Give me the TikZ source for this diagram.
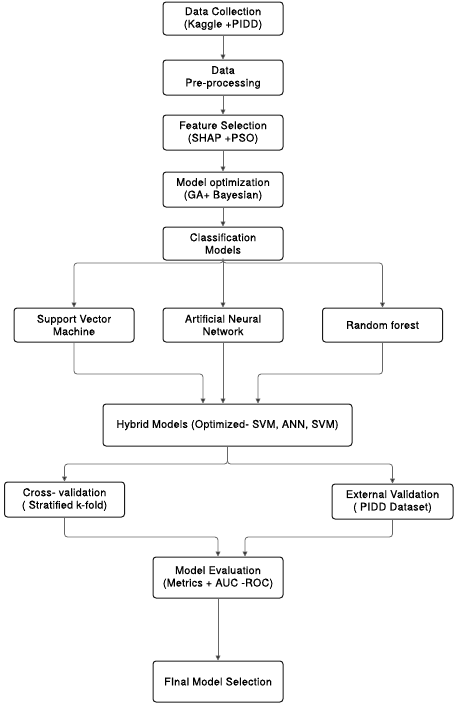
\documentclass[tikz,border=0pt]{standalone}
\usepackage{fontspec}
\setmainfont{TeX Gyre Heros}[LetterSpace=3,FakeBold=0.6]
\usetikzlibrary{arrows.meta,calc}
\begin{document}
\begin{tikzpicture}[x=1pt,y=-1pt,
  box/.style={draw=black!90, line width=1pt, rounded corners=3pt, fill=white,
    align=center, inner sep=0pt, font=\fontsize{10.6}{12.5}\selectfont},
  conn/.style={draw=black!60, line width=0.8pt, rounded corners=3pt,
    -{Triangle[length=5pt,width=5pt,fill=black!85]}}]
\useasboundingbox (0,0) rectangle (454,705);
\node[box, minimum width=120pt, minimum height=33pt] (collect) at (223,18.5) {Data Collection\\(Kaggle +PIDD)};
\node[box, minimum width=120pt, minimum height=35pt] (prep) at (223,77.5) {Data\\Pre-processing};
\node[box, minimum width=120pt, minimum height=35pt] (feat) at (223,132.5) {Feature Selection\\(SHAP +PSO)};
\node[box, minimum width=120pt, minimum height=35pt] (opt) at (223,189.5) {Model optimization\\(GA+ Bayesian)};
\node[box, minimum width=120pt, minimum height=33pt] (cls) at (223,243.5) {Classification\\Models};
\node[box, minimum width=120pt, minimum height=34pt] (svm) at (74,325) {Support Vector\\Machine};
\node[box, minimum width=120pt, minimum height=34pt] (ann) at (223,325) {Artificial Neural\\Network};
\node[box, minimum width=120pt, minimum height=34pt] (rf) at (382.5,325) {Random forest};
\node[box, minimum width=249pt, minimum height=42pt] (hyb) at (227.5,425) {Hybrid Models (Optimized- SVM, ANN, SVM)};
\node[box, minimum width=120pt, minimum height=35pt] (cv) at (64.5,499.5) {Cross- validation\\( Stratified k-fold)};
\node[box, minimum width=121pt, minimum height=35pt] (ev) at (392.5,501.5) {External Validation\\( PIDD Dataset)};
\node[box, minimum width=130pt, minimum height=41pt] (eval) at (218,577.5) {Model Evaluation\\(Metrics + AUC -ROC)};
\node[box, minimum width=130pt, minimum height=41pt] (fin) at (218,681.5) {FInal Model Selection};

\coordinate (b1) at (223,263);
\coordinate (j1) at (203,374);
\coordinate (j2) at (258,374);
\coordinate (b2) at (227.5,464);
\coordinate (j3) at (218,537);
\coordinate (j4) at (245,537);

\draw[conn] (collect) -- (prep);
\draw[conn] (prep) -- (feat);
\draw[conn] (feat) -- (opt);
\draw[conn] (opt) -- (cls);
\draw[conn] (cls.south) -- (b1) -| (svm.north);
\draw[conn] (cls.south) -- (ann.north);
\draw[conn] (cls.south) -- (b1) -| (rf.north);
\draw[conn] (svm.south) |- (j1) -- (j1 |- hyb.north);
\draw[conn] (ann.south) -- (ann.south |- hyb.north);
\draw[conn] (rf.south) |- (j2) -- (j2 |- hyb.north);
\draw[conn] (hyb.south) -- (b2) -| (cv.north);
\draw[conn] (hyb.south) -- (b2) -| (ev.north);
\draw[conn] (cv.south) |- (j3) -- (j3 |- eval.north);
\draw[conn] (ev.south) |- (j4) -- (j4 |- eval.north);
\draw[conn] (eval) -- (fin);
\end{tikzpicture}
\end{document}
